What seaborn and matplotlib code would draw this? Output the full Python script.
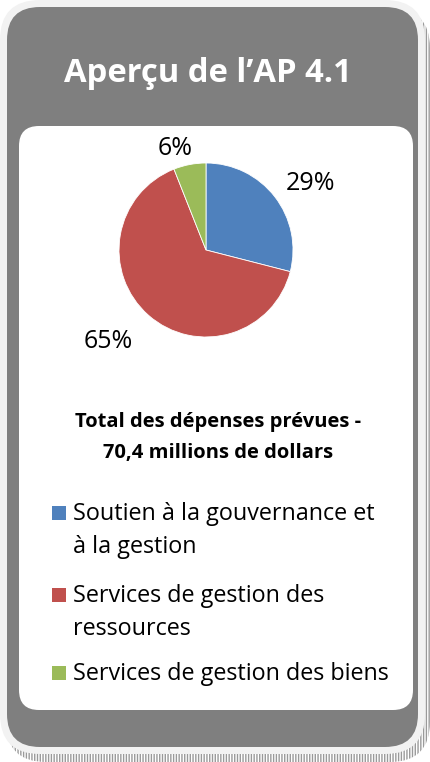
import matplotlib
matplotlib.use("Agg")
import matplotlib.pyplot as plt
import seaborn as sns
import numpy as np
from matplotlib.patches import FancyBboxPatch, Rectangle

# data
categories = ["Soutien à la gouvernance et\nà la gestion",
              "Services de gestion des\nressources",
              "Services de gestion des biens"]
shares = [29, 65, 6]
colors = ["#4F81BD", "#C0504D", "#9BBB59"]
title = "Aperçu de l\u2019AP 4.1"
subtitle = ["Total des dépenses prévues -", "70,4 millions de dollars"]

sns.set_theme(style="white")
plt.rcParams["font.family"] = ["Open Sans", "DejaVu Sans"]

W, H = 430, 762
fig = plt.figure(figsize=(W / 100, H / 100), dpi=100)

# background canvas in pixel units (y down)
bg = fig.add_axes([0, 0, 1, 1])
bg.set_xlim(0, W)
bg.set_ylim(H, 0)
bg.axis("off")

def rbox(x0, y0, x1, y1, r, **kw):
    p = FancyBboxPatch((x0 + r, y0 + r), (x1 - x0) - 2 * r, (y1 - y0) - 2 * r,
                       boxstyle=f"round,pad={r}", **kw)
    bg.add_patch(p)
    return p

# shadow, light rim, grey card, white panel
rbox(6, 8, 430, 762, 40, facecolor="white", edgecolor="#9a9a9a",
     hatch="||||||", linewidth=0)
rbox(0, 0, 425, 754, 40, facecolor="#f2f2f2", edgecolor="none")
rbox(7, 7, 418, 747, 33, facecolor="#7f7f7f", edgecolor="none")
rbox(19, 126, 413, 710, 20, facecolor="white", edgecolor="none")

bg.text(207.5, 82, title, color="white", fontsize=23.6, fontweight="bold",
        ha="center", va="baseline")
for j, line in enumerate(subtitle):
    bg.text(218, 427 + 31 * j, line, color="black", fontsize=14.5,
            fontweight="bold", ha="center", va="baseline")

# pie
cx, cy, r = 206, 250, 87
ax = fig.add_axes([(cx - r) / W, (H - cy - r) / H, 2 * r / W, 2 * r / H])
wedges, _, autotexts = ax.pie(shares, colors=colors, startangle=90,
                              counterclock=False, autopct="%1.0f%%",
                              wedgeprops=dict(edgecolor="white", linewidth=0.6),
                              textprops=dict(fontsize=18, color="black"))
ax.set_aspect("equal")
ax.set_xlim(-1, 1)
ax.set_ylim(-1, 1)

# label placement: distance (in radii) and angular nudge (deg)
label_dist = [1.425, 1.537, 1.225]
label_nudge = [-5.6, -5.7, 6.1]
for w, t, d, n in zip(wedges, autotexts, label_dist, label_nudge):
    a = np.deg2rad((w.theta1 + w.theta2) / 2 + n)
    t.set_position((d * np.cos(a), d * np.sin(a)))
    t.set_clip_on(False)

# legend, squares aligned with the first line of each entry
legend_y = [520, 602, 680]
for lab, col, y in zip(categories, colors, legend_y):
    bg.add_patch(Rectangle((52, y - 14), 14, 14, facecolor=col, edgecolor="none"))
    for j, line in enumerate(lab.split("\n")):
        bg.text(73, y + 33 * j, line, fontsize=16.8, color="black",
                ha="left", va="baseline")

fig.savefig("out.png", dpi=100)
